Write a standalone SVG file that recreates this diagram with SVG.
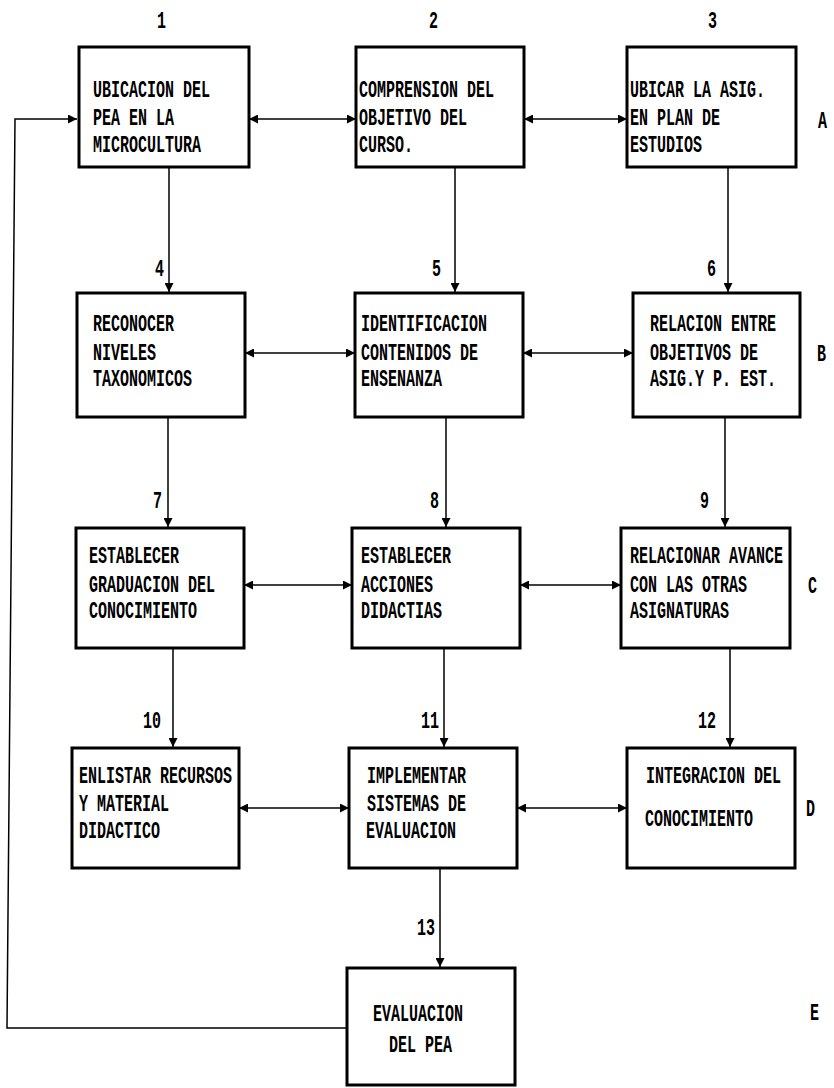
<svg xmlns="http://www.w3.org/2000/svg" width="834" height="1088" viewBox="0 0 834 1088">
<style>
.box{fill:#fff;stroke:#000;stroke-width:3}
.t{font-family:"Liberation Mono",monospace;font-size:15px;fill:#000;font-weight:bold}
.c{fill:none;stroke:#000;stroke-width:1.5}
</style>
<defs>
<marker id="ah" viewBox="0 0 10 10" refX="10" refY="5" markerWidth="9" markerHeight="9" markerUnits="userSpaceOnUse" orient="auto-start-reverse">
<path d="M0,0 L10,5 L0,10 z" fill="#000"/>
</marker>
</defs>
<rect width="834" height="1088" fill="#fff"/>
<g id="labels">
<text class="t" transform="translate(157,28) scale(1,1.6)">1</text>
<text class="t" transform="translate(429,28) scale(1,1.6)">2</text>
<text class="t" transform="translate(708,28) scale(1,1.6)">3</text>
<text class="t" transform="translate(818,128) scale(1,1.6)">A</text>
<text class="t" transform="translate(817,361) scale(1,1.6)">B</text>
<text class="t" transform="translate(808,593) scale(1,1.6)">C</text>
<text class="t" transform="translate(806,816) scale(1,1.6)">D</text>
<text class="t" transform="translate(810,1020) scale(1,1.6)">E</text>
<text class="t" transform="translate(155,276) scale(1,1.6)">4</text>
<text class="t" transform="translate(432,276) scale(1,1.6)">5</text>
<text class="t" transform="translate(707,276) scale(1,1.6)">6</text>
<text class="t" transform="translate(153,508) scale(1,1.6)">7</text>
<text class="t" transform="translate(430,508) scale(1,1.6)">8</text>
<text class="t" transform="translate(700,508) scale(1,1.6)">9</text>
<text class="t" transform="translate(143,728) scale(1,1.6)">10</text>
<text class="t" transform="translate(421,728) scale(1,1.6)">11</text>
<text class="t" transform="translate(698,728) scale(1,1.6)">12</text>
<text class="t" transform="translate(417,935) scale(1,1.6)">13</text>
</g>
<g id="connectors">
<line class="c" x1="249" y1="119" x2="356" y2="119" marker-start="url(#ah)" marker-end="url(#ah)"/>
<line class="c" x1="524" y1="119" x2="627" y2="119" marker-start="url(#ah)" marker-end="url(#ah)"/>
<line class="c" x1="245" y1="353" x2="355" y2="353" marker-start="url(#ah)" marker-end="url(#ah)"/>
<line class="c" x1="523" y1="353" x2="633" y2="353" marker-start="url(#ah)" marker-end="url(#ah)"/>
<line class="c" x1="244" y1="585" x2="352" y2="585" marker-start="url(#ah)" marker-end="url(#ah)"/>
<line class="c" x1="520" y1="585" x2="621" y2="585" marker-start="url(#ah)" marker-end="url(#ah)"/>
<line class="c" x1="239" y1="808" x2="349" y2="808" marker-start="url(#ah)" marker-end="url(#ah)"/>
<line class="c" x1="517" y1="808" x2="627" y2="808" marker-start="url(#ah)" marker-end="url(#ah)"/>
<line class="c" x1="169" y1="167" x2="169" y2="292" marker-end="url(#ah)"/>
<line class="c" x1="455" y1="167" x2="455" y2="292" marker-end="url(#ah)"/>
<line class="c" x1="728" y1="167" x2="728" y2="292" marker-end="url(#ah)"/>
<line class="c" x1="168" y1="417" x2="168" y2="527" marker-end="url(#ah)"/>
<line class="c" x1="446" y1="417" x2="446" y2="527" marker-end="url(#ah)"/>
<line class="c" x1="725" y1="417" x2="725" y2="527" marker-end="url(#ah)"/>
<line class="c" x1="173" y1="648" x2="173" y2="747" marker-end="url(#ah)"/>
<line class="c" x1="444" y1="648" x2="444" y2="747" marker-end="url(#ah)"/>
<line class="c" x1="730" y1="648" x2="730" y2="747" marker-end="url(#ah)"/>
<line class="c" x1="440" y1="860" x2="440" y2="967" marker-end="url(#ah)"/>
<polyline class="c" points="347,1028 7,1028 15,119 77,119" marker-end="url(#ah)"/>
</g>
<g id="n1"><rect class="box" x="79" y="47" width="170" height="120"/>
<text class="t" transform="translate(93,97) scale(1,1.6)">UBICACION DEL</text>
<text class="t" transform="translate(93,125) scale(1,1.6)">PEA EN LA</text>
<text class="t" transform="translate(93,152) scale(1,1.6)">MICROCULTURA</text></g>
<g id="n2"><rect class="box" x="356" y="47" width="168" height="120"/>
<text class="t" transform="translate(359,97) scale(1,1.6)">COMPRENSION DEL</text>
<text class="t" transform="translate(359,125) scale(1,1.6)">OBJETIVO DEL</text>
<text class="t" transform="translate(359,152) scale(1,1.6)">CURSO.</text></g>
<g id="n3"><rect class="box" x="627" y="47" width="169" height="120"/>
<text class="t" transform="translate(630,97) scale(1,1.6)">UBICAR LA ASIG.</text>
<text class="t" transform="translate(630,125) scale(1,1.6)">EN PLAN DE</text>
<text class="t" transform="translate(630,152) scale(1,1.6)">ESTUDIOS</text></g>
<g id="n4"><rect class="box" x="77" y="293" width="168" height="124"/>
<text class="t" transform="translate(93,331) scale(1,1.6)">RECONOCER</text>
<text class="t" transform="translate(93,360) scale(1,1.6)">NIVELES</text>
<text class="t" transform="translate(93,386) scale(1,1.6)">TAXONOMICOS</text></g>
<g id="n5"><rect class="box" x="355" y="293" width="168" height="124"/>
<text class="t" transform="translate(361,331) scale(1,1.6)">IDENTIFICACION</text>
<text class="t" transform="translate(361,360) scale(1,1.6)">CONTENIDOS DE</text>
<text class="t" transform="translate(361,386) scale(1,1.6)">ENSENANZA</text></g>
<g id="n6"><rect class="box" x="633" y="293" width="167" height="124"/>
<text class="t" transform="translate(650,331) scale(1,1.6)">RELACION ENTRE</text>
<text class="t" transform="translate(650,360) scale(1,1.6)">OBJETIVOS DE</text>
<text class="t" transform="translate(650,386) scale(1,1.6)">ASIG.Y P. EST.</text></g>
<g id="n7"><rect class="box" x="76" y="528" width="168" height="120"/>
<text class="t" transform="translate(89,563) scale(1,1.6)">ESTABLECER</text>
<text class="t" transform="translate(89,592) scale(1,1.6)">GRADUACION DEL</text>
<text class="t" transform="translate(89,618) scale(1,1.6)">CONOCIMIENTO</text></g>
<g id="n8"><rect class="box" x="352" y="528" width="168" height="120"/>
<text class="t" transform="translate(361,563) scale(1,1.6)">ESTABLECER</text>
<text class="t" transform="translate(361,592) scale(1,1.6)">ACCIONES</text>
<text class="t" transform="translate(361,618) scale(1,1.6)">DIDACTIAS</text></g>
<g id="n9"><rect class="box" x="621" y="528" width="169" height="120"/>
<text class="t" transform="translate(630,563) scale(1,1.6)">RELACIONAR AVANCE</text>
<text class="t" transform="translate(630,592) scale(1,1.6)">CON LAS OTRAS</text>
<text class="t" transform="translate(630,618) scale(1,1.6)">ASIGNATURAS</text></g>
<g id="n10"><rect class="box" x="72" y="748" width="167" height="120"/>
<text class="t" transform="translate(79,783) scale(1,1.6)">ENLISTAR RECURSOS</text>
<text class="t" transform="translate(79,811) scale(1,1.6)">Y MATERIAL</text>
<text class="t" transform="translate(79,838) scale(1,1.6)">DIDACTICO</text></g>
<g id="n11"><rect class="box" x="349" y="748" width="168" height="120"/>
<text class="t" transform="translate(367,783) scale(1,1.6)">IMPLEMENTAR</text>
<text class="t" transform="translate(367,811) scale(1,1.6)">SISTEMAS DE</text>
<text class="t" transform="translate(366,838) scale(1,1.6)">EVALUACION</text></g>
<g id="n12"><rect class="box" x="627" y="748" width="168" height="120"/>
<text class="t" transform="translate(646,783) scale(1,1.6)">INTEGRACION DEL</text>
<text class="t" transform="translate(645,826) scale(1,1.6)">CONOCIMIENTO</text></g>
<g id="n13"><rect class="box" x="347" y="968" width="168" height="117"/>
<text class="t" transform="translate(373,1021) scale(1,1.6)">EVALUACION</text>
<text class="t" transform="translate(389,1052) scale(1,1.6)">DEL PEA</text></g>
</svg>
